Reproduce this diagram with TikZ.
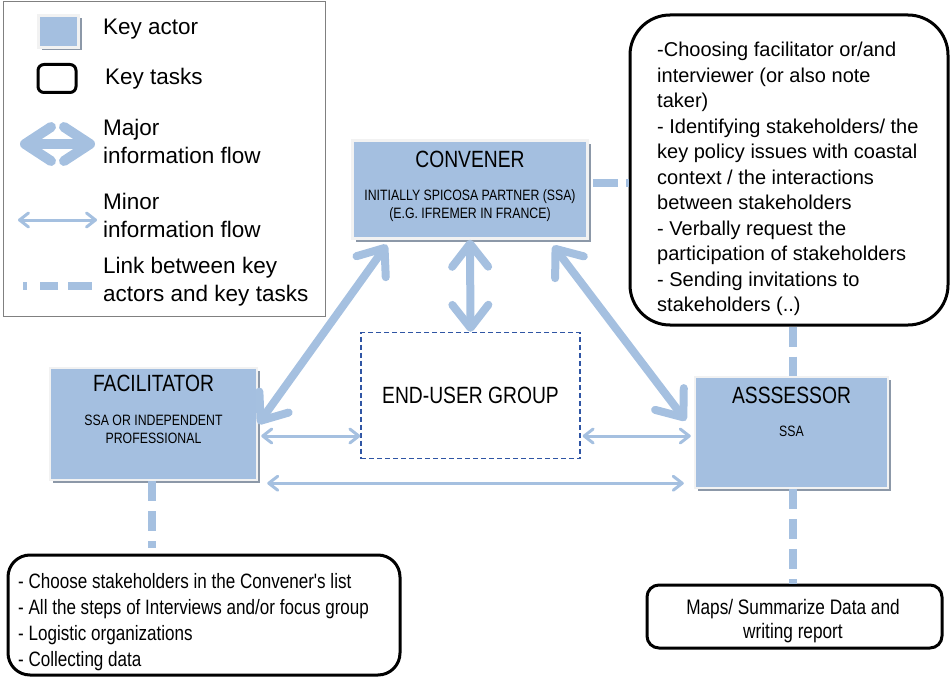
\documentclass[tikz,border=0pt]{standalone}
\usepackage{fontspec}
\setmainfont{Liberation Sans}
\newfontfamily\narrowfont[FakeStretch=0.82]{Liberation Sans}
\usetikzlibrary{arrows.meta,shadows,calc}
\definecolor{actorfill}{HTML}{A4BFE0}
\definecolor{flowblue}{HTML}{A5C0E0}
\definecolor{shadowgray}{HTML}{8C98A8}
\definecolor{actorborder}{HTML}{F2F2F2}
\definecolor{eublue}{HTML}{2F55A4}
\definecolor{legendgray}{HTML}{808080}
\begin{document}
\begin{tikzpicture}[x=1pt,y=-1pt,
  actor/.style={draw=actorborder, line width=2.5pt, fill=actorfill, inner sep=0pt,
    drop shadow={shadow xshift=3pt,shadow yshift=-3pt,fill=shadowgray,opacity=1}},
  taskbox/.style={draw=black, line width=3pt, fill=white, inner sep=0pt},
  actortitle/.style={inner sep=0pt, font=\narrowfont\fontsize{23.5}{27}\selectfont},
  actorsub/.style={inner sep=0pt, align=center, font=\narrowfont\fontsize{15}{18}\selectfont},
  tasktext/.style={inner sep=0pt, align=left},
  legtext/.style={inner sep=0pt, anchor=west, align=left, font=\fontsize{22.5}{28}\selectfont},
  major/.style={draw=flowblue, line width=8pt,
    arrows={Straight Barb[length=23pt,width=36pt,round]-Straight Barb[length=23pt,width=36pt,round]}},
  minor/.style={draw=flowblue, line width=3pt,
    arrows={Straight Barb[length=9pt,width=14pt,round]-Straight Barb[length=9pt,width=14pt,round]}},
  link/.style={draw=flowblue, line width=8pt, dash pattern=on 20pt off 10pt}
]
\useasboundingbox (0,0) rectangle (951,677);

% ---------- legend ----------
\node[draw=legendgray, line width=1pt, minimum width=322pt, minimum height=314pt, inner sep=0pt] (legend) at (164,159) {};
\node[actor, minimum width=40pt, minimum height=32pt] (legActor) at (58.5,31.5) {};
\node[legtext] (legActorT) at (103,29) {Key actor};
\node[taskbox, rounded corners=6pt, minimum width=38pt, minimum height=28pt] (legTask) at (57,78.5) {};
\node[legtext] (legTaskT) at (105,79) {Key tasks};
\coordinate (legMajA) at (20,144);
\coordinate (legMajB) at (95,144);
\draw[draw=flowblue, line width=10pt,
    arrows={Straight Barb[length=26pt,width=34pt,round]-Straight Barb[length=26pt,width=34pt,round]}] (legMajA) -- (legMajB);
\node[legtext] (legMajT) at (103,141) {Major\\information flow};
\coordinate (legMinA) at (18,220);
\coordinate (legMinB) at (97,220);
\draw[minor] (legMinA) -- (legMinB);
\node[legtext] (legMinT) at (103,215) {Minor\\information flow};
\coordinate (legLinkA) at (23,286);
\coordinate (legLinkB) at (92,286);
\draw[link, dash pattern=on 4pt off 13pt on 18pt off 10pt on 24pt off 10pt] (legLinkA) -- (legLinkB);
\node[legtext] (legLinkT) at (103,282) {Link between key\\actors and key tasks};

% ---------- actors ----------
\node[actor, minimum width=235pt, minimum height=98pt] (conv) at (470,189.5) {};
\node[actortitle] (convT) at ($(conv.north)+(0,20)$) {CONVENER};
\node[actorsub] (convS) at ($(conv.north)+(0,66)$) {INITIALLY SPICOSA PARTNER (SSA)\\(E.G. IFREMER IN FRANCE)};

\node[actor, minimum width=207pt, minimum height=112pt] (fac) at (153.5,424) {};
\node[actortitle] (facT) at ($(fac.north)+(0,17)$) {FACILITATOR};
\node[actorsub] (facS) at ($(fac.north)+(0,63)$) {SSA OR INDEPENDENT\\PROFESSIONAL};

\node[actor, minimum width=193pt, minimum height=111pt] (ass) at (791.5,432.5) {};
\node[actortitle] (assT) at ($(ass.north)+(0,20)$) {ASSSESSOR};
\node[actorsub] (assS) at ($(ass.north)+(0,56)$) {SSA};

\node[draw=eublue, line width=1.3pt, dash pattern=on 5pt off 3pt, minimum width=219pt, minimum height=126pt, inner sep=0pt] (eu) at (470.5,395.5) {};
\node[actortitle] (euT) at (eu.center) {END-USER GROUP};

% ---------- tasks ----------
\node[taskbox, rounded corners=40pt, minimum width=318pt, minimum height=310pt] (tr) at (789,170) {};
\node[tasktext, anchor=north west, font=\fontsize{20}{25.5}\selectfont] (trT) at (657,42)
{-Choosing facilitator or/and\\interviewer (or also note\\taker)\\- Identifying stakeholders/ the\\key policy issues with coastal\\context / the interactions\\between stakeholders\\- Verbally request the\\participation of stakeholders\\- Sending invitations to\\stakeholders (..)};

\node[taskbox, rounded corners=22pt, minimum width=392pt, minimum height=120pt] (bl) at (204,615) {};
\node[tasktext, anchor=north west, font=\narrowfont\fontsize{20.8}{26}\selectfont] (blT) at (18,573)
{- Choose stakeholders in the Convener's list\\- All the steps of Interviews and/or focus group\\- Logistic organizations\\- Collecting data};

\node[taskbox, rounded corners=12pt, minimum width=295pt, minimum height=63pt] (br) at (794.5,616.5) {};
\node[tasktext, align=center, font=\narrowfont\fontsize{21}{24}\selectfont] (brT) at (793,621)
{Maps/ Summarize Data and\\writing report};

% ---------- major flows ----------
\coordinate (cfA) at ($(conv.south west)!0.15!(conv.south east)+(0,5)$);
\draw[major] (cfA) -- (fac.east);
\draw[major] (conv.south) -- (eu.north);
\coordinate (caA) at ($(conv.south west)!0.85!(conv.south east)+(0,6)$);
\coordinate (caB) at ($(ass.west)+(-8,-12)$);
\draw[major] (caA) -- (caB);

% ---------- minor flows ----------
\coordinate (m1) at ($(fac.east)+(3,12)$);
\draw[minor] (m1) -- (m1 -| eu.west);
\coordinate (m2) at ($(eu.east)+(2,40.5)$);
\draw[minor] (m2) -- ($(m2 -| ass.west)+(-3,0)$);
\coordinate (m3) at ($(fac.south east)+(9,2)$);
\draw[minor] (m3) -- ($(m3 -| ass.west)+(-10,0)$);

% ---------- links ----------
\coordinate (l1) at ($(conv.east)+(4,-7)$);
\draw[link, dash pattern=on 25pt off 8pt on 20pt] (l1) -- (l1 -| tr.west);
\coordinate (l2) at ($(ass.north)+(1,0)$);
\draw[link] (l2 |- tr.south) -- (l2);
\coordinate (l3) at ($(ass.south)+(1,0)$);
\draw[link] (l3) -- (l3 |- br.north);
\coordinate (l4) at ($(fac.south)+(-1.5,0)$);
\draw[link] (l4) -- ($(l4 |- bl.north)+(0,-6)$);
\end{tikzpicture}
\end{document}
